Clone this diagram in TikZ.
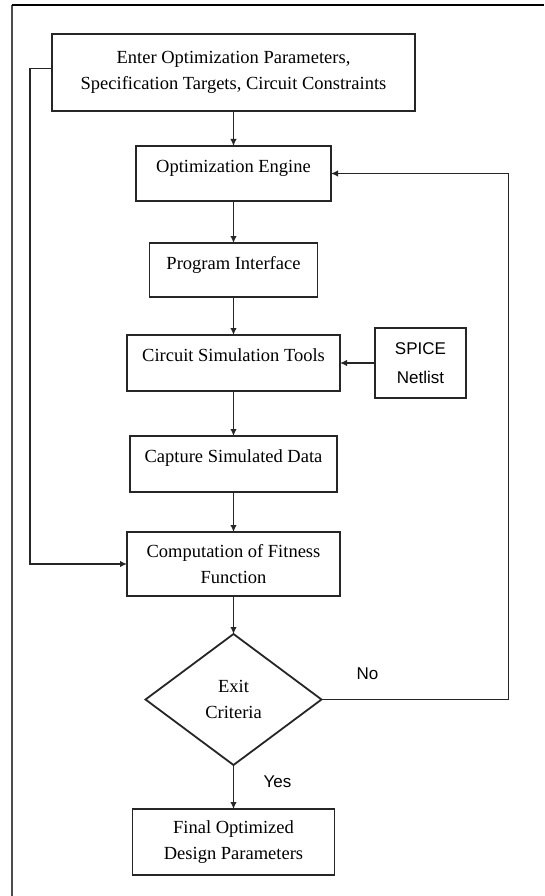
\documentclass[tikz,border=0pt]{standalone}
\usepackage{fontspec}
\setmainfont{Liberation Serif}
\newfontfamily\sansf{Liberation Sans}
\usetikzlibrary{arrows.meta,positioning,shapes.geometric}
\tikzset{
  blk/.style={draw=black!85,rectangle,line width=1.8pt,outer sep=0pt,align=center,inner sep=2pt,font=\fontsize{18.5}{26}\selectfont},
  topblk/.style={blk,text depth=15pt},
  decblk/.style={blk,diamond,inner sep=0pt},
  sideblk/.style={blk,font=\sansf\fontsize{17}{29}\selectfont},
  arr/.style={-{Latex[length=7pt,width=6.5pt]},line width=1.7pt,draw=black!85},
  lbl/.style={font=\sansf\fontsize{17}{20}\selectfont}
}
\begin{document}
\begin{tikzpicture}
  \useasboundingbox (0,0) rectangle (544pt,-896pt);
  % frame
  \draw[line width=2pt,black!70] (12pt,-896pt) -- (12pt,-5pt);
  \draw[line width=2pt] (12pt,-5pt) -- (544pt,-5pt);

  \node[blk, minimum width=363pt, minimum height=77pt] (enter) at (233.5pt,-72.5pt)
    {Enter Optimization Parameters,\\Specification Targets, Circuit Constraints};
  \node[topblk, below=35pt of enter, minimum width=195pt, minimum height=55pt] (opt) {Optimization Engine};
  \node[topblk, below=42pt of opt, minimum width=168pt, minimum height=54pt] (prog) {Program Interface};
  \node[topblk, below=38pt of prog, minimum width=213pt, minimum height=56pt] (circ) {Circuit Simulation Tools};
  \node[sideblk, right=35pt of circ, minimum width=91pt, minimum height=70pt] (spice) {SPICE\\Netlist};
  \node[topblk, below=45pt of circ, minimum width=207pt, minimum height=56pt] (capt) {Capture Simulated Data};
  \node[blk, below=40pt of capt, minimum width=213pt, minimum height=64pt] (comp) {Computation of Fitness\\Function};
  \node[decblk, below=38pt of comp, minimum width=176pt, minimum height=131pt] (crit) {Exit\\Criteria};
  \node[blk, below=44pt of crit, minimum width=202pt, minimum height=66pt] (final) {Final Optimized\\Design Parameters};

  \node[lbl] (no) at ([xshift=46pt,yshift=26pt]crit.east) {No};
  \node[lbl] (yes) at ([xshift=44pt,yshift=-17pt]crit.south) {Yes};

  \draw[arr] (enter)--(opt);
  \draw[arr] (opt)--(prog);
  \draw[arr] (prog)--(circ);
  \draw[arr] (circ)--(capt);
  \draw[arr] (capt)--(comp);
  \draw[arr] (comp)--(crit);
  \draw[arr] (crit)--(final);
  \draw[arr] (spice.west)--(spice.west -| circ.east);
  \draw[arr] ([yshift=4pt]enter.west) -- ++(-22pt,0) |- (comp.west);
  \draw[arr] (crit.east) -- ++(187pt,0) |- (opt.east);
\end{tikzpicture}
\end{document}
